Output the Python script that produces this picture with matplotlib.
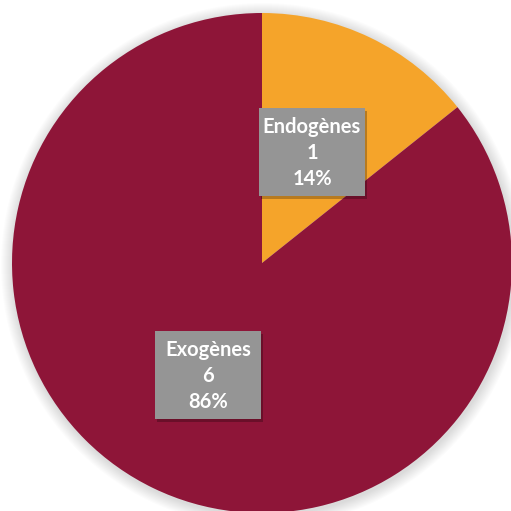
import matplotlib
matplotlib.use('Agg')
import matplotlib.pyplot as plt
from matplotlib.patches import Rectangle, Circle

labels = ['Endogènes', 'Exogènes']
values = [1, 6]
colors = ['#F5A42A', '#8E1538']

W = 511
fig = plt.figure(figsize=(W / 100, W / 100), dpi=100)
ax = fig.add_axes([0, 0, 1, 1])

cx, cy, r = 262, W - 263, 250

# soft shadow behind the pie
for i in range(12):
    ax.add_patch(Circle((cx + 1, cy - 2), r + 12 - i, color='#000000',
                        alpha=0.012, lw=0, zorder=0))

ax.pie(values, colors=colors, startangle=90, counterclock=False,
       center=(cx, cy), radius=r, frame=True,
       wedgeprops=dict(linewidth=0))
ax.set_xlim(0, W)
ax.set_ylim(0, W)
ax.set_aspect('equal')
ax.axis('off')

total = sum(values)
# box centres (pixels) and size
boxes = [(312, W - 152), (208, W - 375)]
bw, bh = 106, 88
for (bx, by), name, v in zip(boxes, labels, values):
    ax.add_patch(Rectangle((bx - bw / 2 + 2, by - bh / 2 - 3), bw, bh,
                           color='#000000', alpha=0.25, lw=0, zorder=3))
    ax.add_patch(Rectangle((bx - bw / 2, by - bh / 2), bw, bh,
                           color='#959595', lw=0, zorder=4))
    txt = f"{name}\n{v}\n{round(100 * v / total)}%"
    ax.text(bx, by - 1, txt, ha='center', va='center', color='white',
            fontsize=14.5, fontweight='bold', family='Lato',
            linespacing=1.38, zorder=5)

fig.savefig('out.png', dpi=100, facecolor='white')
